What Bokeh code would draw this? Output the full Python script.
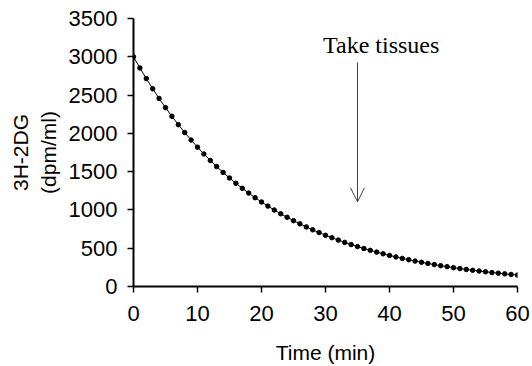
from bokeh.plotting import figure
from bokeh.models import Range1d, Label, Arrow, OpenHead, SingleIntervalTicker
from bokeh.embed import file_html
from bokeh.resources import INLINE

time_min = list(range(0, 61))
dpm = [3000, 2854, 2715, 2582, 2456, 2336, 2223, 2114, 2011, 1913,
       1820, 1731, 1646, 1566, 1490, 1417, 1348, 1282, 1220, 1160,
       1104, 1050, 999, 950, 904, 860, 818, 778, 740, 704,
       669, 637, 606, 576, 548, 521, 496, 472, 449, 427,
       406, 386, 367, 350, 332, 316, 301, 286, 272, 259,
       246, 234, 223, 212, 202, 192, 182, 174, 165, 157,
       149]

arrow_time = 35
arrow_from = 2927
arrow_to = 1106
note_text = "Take tissues"
note_x = 38.7
note_y = 3160

p = figure(width=532, height=366, output_backend="svg", toolbar_location=None,
           x_range=Range1d(0, 60), y_range=Range1d(0, 3500),
           min_border_left=133, min_border_right=15, min_border_top=18, min_border_bottom=79)
p.outline_line_color = None
p.grid.grid_line_color = None
p.background_fill_color = "white"
p.border_fill_color = "white"

p.line(time_min, dpm, line_color="black", line_width=1)
p.scatter(time_min, dpm, size=4.5, fill_color="black", line_color="black")

for ax in (p.xaxis, p.yaxis):
    ax.axis_line_color = "black"
    ax.axis_line_width = 2
    ax.major_tick_line_color = "black"
    ax.major_tick_line_width = 1.5
    ax.major_tick_out = 6
    ax.major_tick_in = 0
    ax.minor_tick_line_color = None
    ax.major_label_text_font = "Liberation Sans"
    ax.major_label_text_font_size = "22px"
    ax.major_label_text_color = "black"
    ax.axis_label_text_font = "Liberation Sans"
    ax.axis_label_text_font_size = "21px"
    ax.axis_label_text_font_style = "normal"
    ax.axis_label_text_color = "black"

p.xaxis.ticker = SingleIntervalTicker(interval=10)
p.yaxis.ticker = SingleIntervalTicker(interval=500)
p.xaxis.major_label_standoff = 13
p.yaxis.major_label_standoff = 10
p.xaxis.axis_label = "Time (min)"
p.xaxis.axis_label_standoff = 17
p.yaxis.axis_label = "3H-2DG\n(dpm/ml)"
p.yaxis.axis_label_standoff = 6

p.add_layout(Arrow(x_start=arrow_time, y_start=arrow_from, x_end=arrow_time, y_end=arrow_to,
                   line_color="#444444", line_width=1,
                   end=OpenHead(size=14, line_color="#444444", line_width=1)))
p.add_layout(Label(x=note_x, y=note_y, text=note_text, text_align="center",
                   text_baseline="alphabetic", text_font="Liberation Serif",
                   text_font_size="24px", text_color="black"))

open("out.html", "w").write(file_html(p, INLINE))
